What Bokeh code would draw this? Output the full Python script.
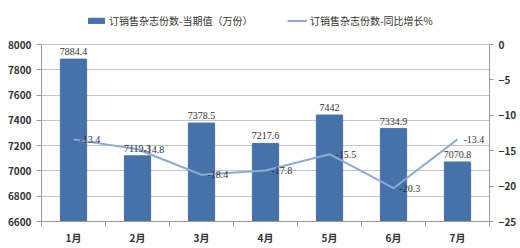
from bokeh.plotting import figure
from bokeh.models import (ColumnDataSource, Range1d, LinearAxis, FixedTicker, LabelSet,
                          Legend, LegendItem)
from bokeh.embed import file_html
from bokeh.resources import INLINE

months = ["1月", "2月", "3月", "4月", "5月", "6月", "7月"]
volume = [7884.4, 7119.3, 7378.5, 7217.6, 7442, 7334.9, 7070.8]
growth = [-13.4, -14.8, -18.4, -17.8, -15.5, -20.3, -13.4]
left_ticks = [6600, 6800, 7000, 7200, 7400, 7600, 7800, 8000]
right_ticks = [0, -5, -10, -15, -20, -25]
name_bar = "订销售杂志份数-当期值（万份）"
name_line = "订销售杂志份数-同比增长%"

FONT = "Noto Sans CJK SC"
BAR = "#4672a9"
LINE = "#8eaad8"
GRID = "#c6c6c6"
AX = "#9a9a9a"
TXT = "#333333"

# frame extends above the axis tops to leave room for the legend
HEAD = 34 / 177.0  # fraction of the axis height added on top
lmin, lmax = left_ticks[0], left_ticks[-1]
rmin, rmax = right_ticks[-1], right_ticks[0]

xs = [i + 0.5 for i in range(len(months))]
src = ColumnDataSource(dict(
    x=xs, vol=volume, gr=growth,
    vol_lbl=[("%g" % v) for v in volume],
    gr_lbl=[("%g" % g) for g in growth],
))

p = figure(width=520, height=248, output_backend="svg", toolbar_location=None,
           x_range=Range1d(0, len(months)),
           y_range=Range1d(lmin, lmax + (lmax - lmin) * HEAD),
           min_border_left=41, min_border_right=31, min_border_top=10, min_border_bottom=27)
p.outline_line_color = None
p.extra_y_ranges = {"pct": Range1d(rmin, rmax + (rmax - rmin) * HEAD)}

bars = p.vbar(x="x", top="vol", bottom=lmin, width=0.41, source=src,
              fill_color=BAR, line_color=BAR)
line = p.line(x="x", y="gr", source=src, y_range_name="pct", line_color=LINE, line_width=2)

# axes
p.xaxis.ticker = FixedTicker(ticks=xs, minor_ticks=list(range(len(months) + 1)))
p.xaxis.major_label_overrides = {x: m for x, m in zip(xs, months)}
p.xaxis.major_tick_line_color = None
p.xaxis.minor_tick_line_color = AX
p.xaxis.minor_tick_out = 5
p.xaxis.minor_tick_in = 0
p.xaxis.axis_line_color = AX

p.yaxis.ticker = FixedTicker(ticks=left_ticks)
p.yaxis.bounds = (lmin, lmax)
p.yaxis.axis_line_color = AX
p.yaxis.major_tick_line_color = AX
p.yaxis.major_tick_out = 5
p.yaxis.major_tick_in = 0
p.yaxis.minor_tick_line_color = None

ry = LinearAxis(y_range_name="pct", ticker=FixedTicker(ticks=right_ticks), bounds=(rmin, rmax))
ry.axis_line_color = AX
ry.major_tick_line_color = AX
ry.major_tick_out = 4
ry.major_tick_in = 0
ry.minor_tick_line_color = None
p.add_layout(ry, "right")

for ax in [p.xaxis[0], p.yaxis[0], ry]:
    ax.major_label_text_font = FONT
    ax.major_label_text_font_size = "10px"
    ax.major_label_text_font_style = "bold"
    ax.major_label_text_color = TXT
    ax.major_label_standoff = 5
p.xaxis.major_label_standoff = 2

p.xgrid.grid_line_color = None
p.ygrid.ticker = FixedTicker(ticks=left_ticks)
p.ygrid.grid_line_color = GRID

# data labels
p.add_layout(LabelSet(x="x", y="vol", text="vol_lbl", source=src, y_offset=4,
                      text_align="center", text_baseline="bottom",
                      text_font=FONT, text_font_size="10px", text_color=TXT))
p.add_layout(LabelSet(x="x", y="gr", text="gr_lbl", source=src, y_range_name="pct",
                      x_offset=6, text_align="left", text_baseline="middle",
                      text_font=FONT, text_font_size="10px", text_color=TXT))

# legends
for items, loc in [([LegendItem(label=name_bar, renderers=[bars])], (45, 193)),
                   ([LegendItem(label=name_line, renderers=[line])], (246, 193))]:
    lg = Legend(items=items, location=loc, orientation="horizontal",
                margin=0, padding=0, border_line_color=None, background_fill_alpha=0,
                glyph_width=20, glyph_height=7, label_height=12, label_standoff=3,
                label_text_font=FONT, label_text_font_size="10px", label_text_color=TXT)
    p.add_layout(lg, "center")

open("out.html", "w").write(file_html(p, INLINE))
